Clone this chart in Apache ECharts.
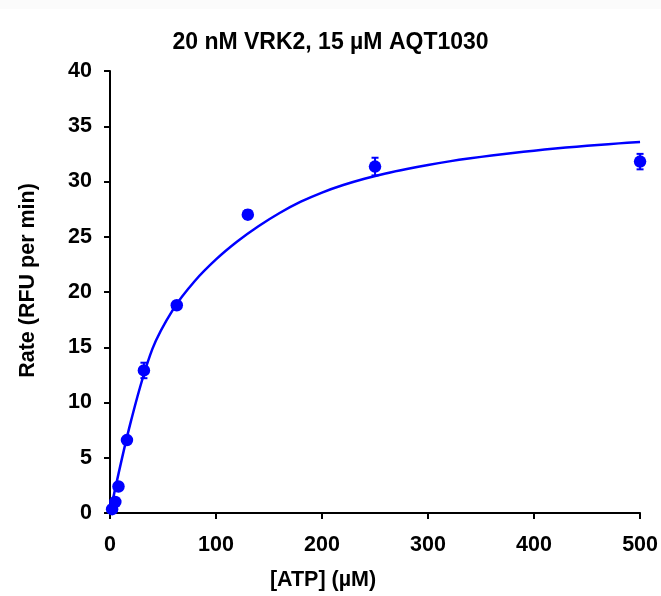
<!DOCTYPE html>
<html>
<head>
<meta charset="utf-8">
<script src="https://cdn.jsdelivr.net/npm/echarts@6/dist/echarts.min.js"></script>
<style>
  html, body { margin: 0; padding: 0; background: #ffffff; }
  #chart { width: 661px; height: 596px; }
</style>
</head>
<body>
<div id="chart"></div>
<script>
// Measured rates at each ATP concentration
const atpConc = [2, 5, 8, 16, 32, 63, 130, 250, 500];
const rateMean = [0.35, 1.0, 2.4, 6.6, 12.9, 18.8, 27.0, 31.35, 31.8];
const rateErr = [0, 0, 0, 0, 0.7, 0.15, 0.4, 0.8, 0.7];

// Fitted saturation curve, sampled every 20 µM
const fitX = [0, 20, 40, 60, 80, 100, 120, 140, 160, 180, 200, 220, 240, 260, 280, 300, 320, 340, 360, 380, 400, 420, 440, 460, 480, 500];
const fitY = [0, 8.4, 14.85, 18.5, 21.0, 22.95, 24.57, 25.95, 27.15, 28.17, 29.0, 29.68, 30.25, 30.73, 31.14, 31.5, 31.82, 32.1, 32.35, 32.58, 32.79, 32.98, 33.15, 33.31, 33.45, 33.58];

// Axis ticks
const xTicks = { min: 0, max: 500, interval: 100 };
const yTicks = { min: 0, max: 40, interval: 5 };

const BLUE = '#0000ff';
const FONT = 'Liberation Sans, Arial, sans-serif';

const points = atpConc.map((x, i) => [x, rateMean[i]]);
const errData = atpConc.map((x, i) => [x, rateMean[i] - rateErr[i], rateMean[i] + rateErr[i]]);
const fitLine = fitX.map((x, i) => [x, fitY[i]]);

const chart = echarts.init(document.getElementById('chart'), null, { renderer: 'canvas' });

chart.setOption({
  backgroundColor: '#ffffff',
  animation: false,
  title: {
    text: '20 nM VRK2, 15 µM AQT1030',
    left: 'center',
    top: 26,
    textStyle: { fontFamily: FONT, fontSize: 23, fontWeight: 'bold', color: '#000' }
  },
  graphic: [{
    type: 'rect', left: 0, top: 0, z: -1,
    shape: { width: 661, height: 9 },
    style: { fill: '#fbfbfb' }
  }],
  grid: { left: 110, right: 18, top: 71, bottom: 82 },
  xAxis: {
    type: 'value',
    min: xTicks.min, max: xTicks.max, interval: xTicks.interval,
    name: '[ATP] (µM)',
    nameLocation: 'middle',
    nameGap: 56,
    nameTextStyle: { fontFamily: FONT, fontSize: 21.5, fontWeight: 'bold', color: '#000', padding: [0, 104, 0, 0] },
    axisLine: { lineStyle: { color: '#000', width: 2 } },
    axisTick: { show: true, inside: false, length: 6, lineStyle: { color: '#000', width: 2 } },
    axisLabel: { fontFamily: FONT, fontSize: 21.5, fontWeight: 'bold', color: '#000', margin: 21 },
    splitLine: { show: false }
  },
  yAxis: {
    type: 'value',
    min: yTicks.min, max: yTicks.max, interval: yTicks.interval,
    name: 'Rate (RFU per min)',
    nameLocation: 'middle',
    nameGap: 71,
    nameTextStyle: { fontFamily: FONT, fontSize: 21.5, fontWeight: 'bold', color: '#000', padding: [0, 0, 0, 23] },
    axisLine: { show: true, lineStyle: { color: '#000', width: 2 } },
    axisTick: { show: true, inside: false, length: 6, lineStyle: { color: '#000', width: 2 } },
    axisLabel: { fontFamily: FONT, fontSize: 21.5, fontWeight: 'bold', color: '#000', margin: 18 },
    splitLine: { show: false }
  },
  series: [
    {
      name: 'fit',
      type: 'line',
      data: fitLine,
      smooth: 0.35,
      showSymbol: false,
      lineStyle: { color: BLUE, width: 2.5 },
      z: 2
    },
    {
      name: 'error',
      type: 'custom',
      data: errData,
      z: 3,
      renderItem: function (params, api) {
        const x = api.value(0);
        const lo = api.coord([x, api.value(1)]);
        const hi = api.coord([x, api.value(2)]);
        const half = 3.5;
        const style = { stroke: BLUE, lineWidth: 2 };
        return {
          type: 'group',
          children: [
            { type: 'line', shape: { x1: lo[0], y1: lo[1], x2: hi[0], y2: hi[1] }, style },
            { type: 'line', shape: { x1: hi[0] - half, y1: hi[1], x2: hi[0] + half, y2: hi[1] }, style },
            { type: 'line', shape: { x1: lo[0] - half, y1: lo[1], x2: lo[0] + half, y2: lo[1] }, style }
          ]
        };
      }
    },
    {
      name: 'rate',
      type: 'scatter',
      data: points,
      symbol: 'circle',
      symbolSize: 12.5,
      itemStyle: { color: BLUE, opacity: 1 },
      z: 4
    }
  ]
});
</script>
</body>
</html>
